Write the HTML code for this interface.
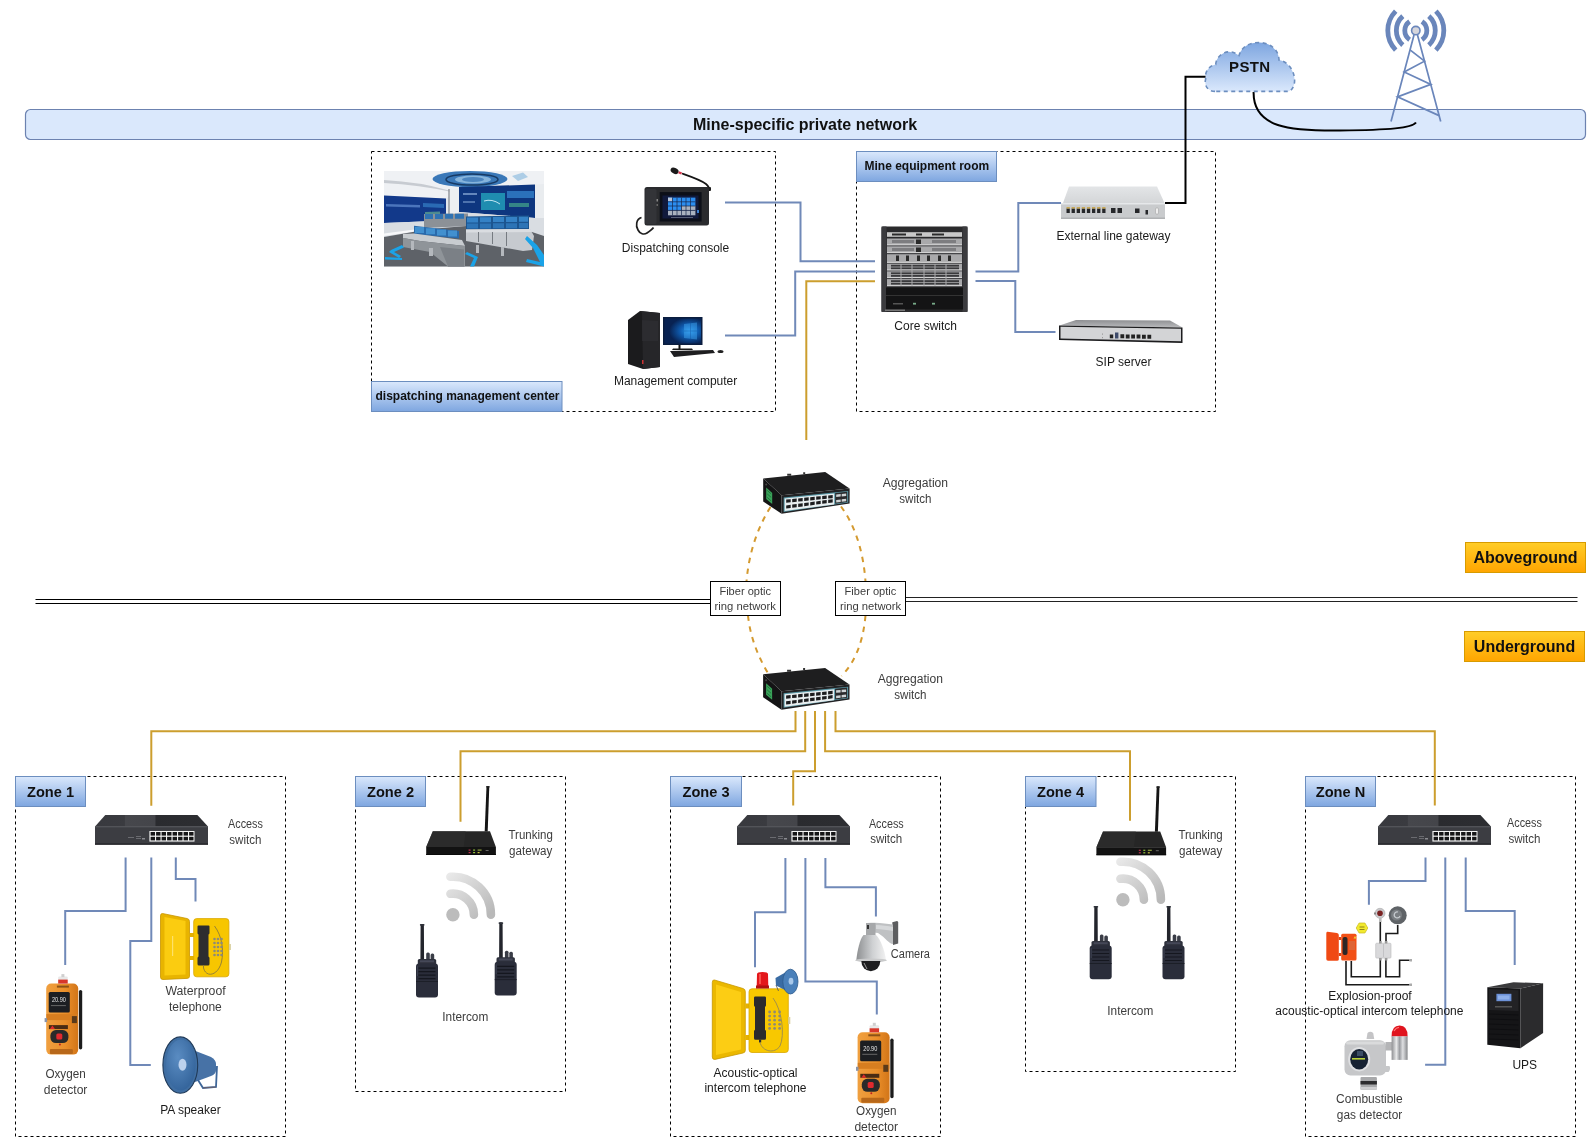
<!DOCTYPE html>
<html><head><meta charset="utf-8"><title>Mine network</title>
<style>
html,body{margin:0;padding:0;background:#fff;width:1596px;height:1147px;overflow:hidden}
svg{display:block;font-family:"Liberation Sans",sans-serif;will-change:transform}
.t{font-size:12px;fill:#1a1a1a}
.g{font-size:12px;fill:#3c3c3c}
.b{font-weight:bold;fill:#111}
.blue{stroke:#7089b8;stroke-width:2;fill:none}
.org{stroke:#cc9e2e;stroke-width:2;fill:none}
.dash{stroke:#000;stroke-width:1;fill:none;stroke-dasharray:3 3}
</style></head>
<body>
<svg width="1596" height="1147" viewBox="0 0 1596 1147">
<defs>
<linearGradient id="lbl" x1="0" y1="0" x2="0" y2="1"><stop offset="0" stop-color="#dae8fc"/><stop offset="1" stop-color="#7ea6e0"/></linearGradient>
<linearGradient id="orng" x1="0" y1="0" x2="0" y2="1"><stop offset="0" stop-color="#ffcd28"/><stop offset="1" stop-color="#ffa500"/></linearGradient>
<linearGradient id="cloud" x1="0" y1="0" x2="0" y2="1"><stop offset="0" stop-color="#7ea6e0"/><stop offset="1" stop-color="#dae8fc"/></linearGradient>
<linearGradient id="camg" x1="0" y1="0" x2="1" y2="0"><stop offset="0" stop-color="#8d8f91"/><stop offset=".55" stop-color="#cfd1d3"/><stop offset="1" stop-color="#f2f2f2"/></linearGradient>
<linearGradient id="metal" x1="0" y1="0" x2="1" y2="0"><stop offset="0" stop-color="#8e8f92"/><stop offset=".3" stop-color="#e8e9ea"/><stop offset=".5" stop-color="#9a9ca0"/><stop offset=".7" stop-color="#dfe0e2"/><stop offset="1" stop-color="#85878a"/></linearGradient>
<linearGradient id="wifig" gradientUnits="userSpaceOnUse" x1="-10" y1="-40" x2="30" y2="5"><stop offset="0" stop-color="#ececec"/><stop offset="1" stop-color="#b9b9b9"/></linearGradient>
<linearGradient id="oxyg" x1="0" y1="0" x2="1" y2="0"><stop offset="0" stop-color="#f0a040"/><stop offset=".6" stop-color="#ea8f2a"/><stop offset="1" stop-color="#d27518"/></linearGradient>
<linearGradient id="accTop" x1="0" y1="0" x2="1" y2="0"><stop offset="0" stop-color="#38393e"/><stop offset=".26" stop-color="#3a3b40"/><stop offset=".27" stop-color="#46474c"/><stop offset=".53" stop-color="#44454a"/><stop offset=".54" stop-color="#2a2b2f"/><stop offset="1" stop-color="#2d2e32"/></linearGradient>
<radialGradient id="winG" cx=".68" cy=".5" r=".55"><stop offset="0" stop-color="#2a98ec"/><stop offset=".45" stop-color="#0f5cb0"/><stop offset="1" stop-color="#082252"/></radialGradient>
<linearGradient id="gwTop" x1="0" y1="0" x2="0" y2="1"><stop offset="0" stop-color="#e3e5e7"/><stop offset="1" stop-color="#d4d6d8"/></linearGradient>
<linearGradient id="sipTop" x1="0" y1="0" x2="0" y2="1"><stop offset="0" stop-color="#8e8f92"/><stop offset="1" stop-color="#b9babc"/></linearGradient>
<radialGradient id="paG" cx=".4" cy=".35" r=".7"><stop offset="0" stop-color="#5a8cc2"/><stop offset="1" stop-color="#33639a"/></radialGradient>

<!-- aggregation switch, origin = top-left corner of top face -->
<g id="aggsw">
<path d="M0,0 L62,-6.4 L86.4,10.2 L18.4,16.9 Z" fill="#1e1e1f"/>
<path d="M24,-2.6 h4 v-2 h-4z M40,-4.2 h2 v-2 h-2z" fill="#333"/>
<path d="M0,0 L18.4,16.9 L18.4,35.4 L0,23 Z" fill="#141415"/>
<path d="M3,9 L9,14.5 L9,25.5 L3,20.5 Z" fill="#3aa35a"/>
<path d="M4,12 L8,15.5 M4,15.5 L8,19 M4,19 L8,22.5" stroke="#1d6b35" stroke-width=".8"/>
<circle cx="3" cy="6" r="1" fill="#444"/>
<path d="M18.4,16.9 L86.4,10.2 L86.4,25.2 L18.4,35.4 Z" fill="#222224"/>
<path d="M20.5,19 L85,12.5 L85,24 L20.5,33.5 Z" fill="#5b9aa8"/>
<path d="M21.5,20 L71,15 L71,26 L21.5,32.5 Z" fill="#e8eef0"/>
<g fill="#1c1c1e">
<path d="M23,21.2 l4.5,-.45 v3.2 l-4.5,.45z M29,20.6 l4.5,-.45 v3.2 l-4.5,.45z M35,20 l4.5,-.45 v3.2 l-4.5,.45z M41,19.4 l4.5,-.45 v3.2 l-4.5,.45z M47,18.8 l4.5,-.45 v3.2 l-4.5,.45z M53,18.2 l4.5,-.45 v3.2 l-4.5,.45z M59,17.6 l4.5,-.45 v3.2 l-4.5,.45z M65,17 l4.5,-.45 v3.2 l-4.5,.45z"/>
<path d="M23,27 l4.5,-.6 v3.2 l-4.5,.6z M29,26.2 l4.5,-.6 v3.2 l-4.5,.6z M35,25.4 l4.5,-.6 v3.2 l-4.5,.6z M41,24.6 l4.5,-.6 v3.2 l-4.5,.6z M47,23.8 l4.5,-.6 v3.2 l-4.5,.6z M53,23 l4.5,-.6 v3.2 l-4.5,.6z M59,22.2 l4.5,-.6 v3.2 l-4.5,.6z M65,21.4 l4.5,-.6 v3.2 l-4.5,.6z"/>
</g>
<path d="M72,14.5 L84,13.3 L84,23.5 L72,25.3 Z" fill="#2a2a2c"/>
<path d="M73,16 l4.5,-.4 v2.5 l-4.5,.4z M78.5,15.5 l4.5,-.4 v2.5 l-4.5,.4z M73,21.5 l4.5,-.5 v2.5 l-4.5,.5z M78.5,20.8 l4.5,-.5 v2.5 l-4.5,.5z" fill="#cfd4d6"/>
</g>

<!-- access switch, origin = left x, top y -->
<g id="accsw">
<path d="M10.3,0 L102.4,0 L113,11.4 L0,11.4 Z" fill="url(#accTop)"/>
<rect x="0" y="11.4" width="113" height="18.2" fill="#3c3d42"/>
<rect x="0" y="11.4" width="113" height="1.2" fill="#4a4b50"/>
<rect x="0" y="28.2" width="113" height="1.6" fill="#2a2a2e"/>
<rect x="54.4" y="16" width="45.1" height="10.6" fill="#f2f2f2"/>
<g fill="#151517">
<rect x="55.6" y="17" width="4.4" height="3.6"/><rect x="61.1" y="17" width="4.4" height="3.6"/><rect x="66.6" y="17" width="4.4" height="3.6"/><rect x="72.1" y="17" width="4.4" height="3.6"/><rect x="77.6" y="17" width="4.4" height="3.6"/><rect x="83.1" y="17" width="4.4" height="3.6"/><rect x="88.6" y="17" width="4.4" height="3.6"/><rect x="94.1" y="17" width="4.4" height="3.6"/>
<rect x="55.6" y="21.8" width="4.4" height="3.6"/><rect x="61.1" y="21.8" width="4.4" height="3.6"/><rect x="66.6" y="21.8" width="4.4" height="3.6"/><rect x="72.1" y="21.8" width="4.4" height="3.6"/><rect x="77.6" y="21.8" width="4.4" height="3.6"/><rect x="83.1" y="21.8" width="4.4" height="3.6"/><rect x="88.6" y="21.8" width="4.4" height="3.6"/><rect x="94.1" y="21.8" width="4.4" height="3.6"/>
</g>
<g fill="#6a6b70"><rect x="33" y="22" width="6" height="1"/><rect x="41" y="21" width="5" height="1"/><rect x="41" y="23" width="5" height="1"/><rect x="47" y="23" width="3" height="1.5" fill="#8a8b90"/></g>
</g>

<!-- router, origin offset so body-left ~0.6 -->
<g id="router">
<path d="M60.9,0.3 L63.7,0.3 L62.1,45.5 L59.1,45.5 Z" fill="#151515"/>
<rect x="60.6" y="0" width="3.4" height="1.6" rx=".6" fill="#222"/>
<path d="M7.2,45.3 L64.4,45.3 L70.3,61 L0.6,61 Z" fill="#262626"/>
<path d="M7.2,45.3 L40,45.3 L38,61 L0.6,61 Z" fill="#2e2e2e" opacity=".7"/>
<rect x="0.6" y="61" width="69.7" height="8" fill="#121212"/>
<rect x="0.6" y="68" width="69.7" height="1" fill="#0a0a0a"/>
<rect x="43" y="63.5" width="2" height="1.2" fill="#c0304a"/>
<rect x="43" y="66" width="2" height="1.2" fill="#c0304a"/>
<rect x="47.5" y="63.5" width="2" height="1.2" fill="#8fc03a"/><rect x="47.5" y="66" width="2" height="1.2" fill="#8fc03a"/>
<rect x="52" y="63.5" width="4" height="1.2" fill="#8fa040"/><rect x="52" y="66" width="2" height="1.2" fill="#c8c040"/>
<rect x="60" y="64" width="3" height="1" fill="#666"/>
</g>

<!-- wifi, origin = dot center -->
<g id="wifi">
<circle cx="0" cy="0" r="6.7" fill="#bcbcbc"/>
<path d="M-2.5,-20.9 A21,21 0 0 1 21,0" stroke="url(#wifig)" stroke-width="8.6" stroke-linecap="round" fill="none"/>
<path d="M-2.5,-37.9 A38,38 0 0 1 38,0" stroke="url(#wifig)" stroke-width="8.6" stroke-linecap="round" fill="none"/>
</g>

<!-- walkie-talkie, origin = body-left, antenna-top -->
<g id="walkie">
<path d="M4.6,1.5 Q4.6,0 6.2,0 Q7.9,0 7.9,1.5 L8.1,37 L4.4,37 Z" fill="#23252c"/>
<rect x="3.9" y="0" width="4.6" height="1.6" rx=".7" fill="#2f323a"/>
<rect x="10.2" y="28.5" width="3.6" height="8.5" rx="1.5" fill="#3a3d47"/>
<rect x="14.6" y="29.5" width="3.6" height="7.5" rx="1.5" fill="#3a3d47"/>
<rect x="1.8" y="35" width="18.4" height="7" rx="1.5" fill="#2e313c"/>
<rect x="0" y="39.5" width="22" height="33.8" rx="3" fill="#2a2d3a"/>
<rect x="4" y="36.2" width="14" height="2" fill="#454858"/>
<g stroke="#15171f" stroke-width="1.2"><path d="M2.5,44 H19.5 M2.5,47.5 H19.5 M2.5,51 H19.5 M2.5,54.5 H19.5"/></g>
<rect x="0" y="57" width="22" height="0.8" fill="#1a1c24"/>
<rect x="1" y="42" width="1" height="10" fill="#3c4050"/>
</g>

<!-- oxygen detector, origin = top-left of bbox -->
<g id="oxy">
<path d="M34,17.5 Q34,15.8 35.6,15.8 Q37.3,15.8 37.3,17.5 L37.3,74 Q37.3,75.4 35.6,75.4 Q34,75.4 34,74 Z" fill="#1c1c1c"/>
<rect x="1.3" y="9.5" width="32" height="71" rx="5" fill="url(#oxyg)"/>
<rect x="13.3" y="2.5" width="9.5" height="7" rx="1" fill="#e8e8e8"/>
<rect x="13.3" y="5.5" width="9.5" height="4" fill="#d8372c"/>
<rect x="16.5" y="0" width="3" height="3" fill="#cfcfcf"/>
<rect x="12" y="11.5" width="12" height="2" fill="#8a5218"/>
<rect x="3.8" y="17.8" width="21.1" height="20.7" rx="1.5" fill="#1c1e22"/>
<text x="7" y="28.3" font-size="6.4" fill="#e8e8e8" font-family="Liberation Sans, sans-serif" textLength="14" lengthAdjust="spacingAndGlyphs">20.90</text>
<rect x="6" y="31" width="15" height="1" fill="#666"/>
<rect x="1.5" y="40" width="31.5" height="6" fill="#d77e20"/>
<rect x="-0.3" y="44" width="2.5" height="4" fill="#8a93a8"/>
<rect x="27" y="42" width="5" height="7" fill="#5a3a1a"/>
<path d="M4,51 L23,51 L23,55 L4,55 Z" fill="#4a2c14"/>
<path d="M5,55 L7.5,51.5 L10,55 Z" fill="#e02a2a"/>
<rect x="5.5" y="56" width="18" height="13" rx="5.5" fill="#2a2a2a"/>
<rect x="11.4" y="59.3" width="6" height="6" rx="1.5" fill="#e12a2e"/>
<circle cx="15" cy="70.5" r="1" fill="#c02020"/>
<rect x="5" y="75" width="23" height="5" rx="1" fill="#b8681a"/>
</g>

</defs>

<!-- top banner -->
<rect x="25.5" y="109.5" width="1560" height="30" rx="5" fill="#dae8fc" stroke="#6c82b0" stroke-width="1.2"/>
<text x="805" y="129.7" text-anchor="middle" class="b" style="font-size:16px">Mine-specific private network</text>

<!-- dispatching management center box -->
<rect x="371.5" y="151.5" width="404" height="260" class="dash"/>
<rect x="371.5" y="381.5" width="190.5" height="30" fill="url(#lbl)" stroke="#6c8ebf" stroke-width="1"/>
<text x="375.5" y="399.6" class="b" style="font-size:12px">dispatching management center</text>

<!-- mine equipment room box -->
<rect x="856.5" y="151.5" width="359" height="260" class="dash"/>
<rect x="856.5" y="151.5" width="140" height="30" fill="url(#lbl)" stroke="#6c8ebf" stroke-width="1"/>
<text x="864.5" y="170.2" class="b" style="font-size:12px">Mine equipment room</text>

<!-- zone boxes -->
<rect x="15.5" y="776.5" width="270" height="360" class="dash"/>
<rect x="355.5" y="776.5" width="210" height="315" class="dash"/>
<rect x="670.5" y="776.5" width="270" height="360" class="dash"/>
<rect x="1025.5" y="776.5" width="210" height="295" class="dash"/>
<rect x="1305.5" y="776.5" width="270" height="360" class="dash"/>

<g id="zonelabels">
<rect x="15.5" y="776.5" width="70" height="30" fill="url(#lbl)" stroke="#6c8ebf" stroke-width="1"/>
<text x="50.5" y="796.9" text-anchor="middle" class="b" style="font-size:14.6px">Zone 1</text>
<rect x="355.5" y="776.5" width="70" height="30" fill="url(#lbl)" stroke="#6c8ebf" stroke-width="1"/>
<text x="390.5" y="796.9" text-anchor="middle" class="b" style="font-size:14.6px">Zone 2</text>
<rect x="670.5" y="776.5" width="71" height="30" fill="url(#lbl)" stroke="#6c8ebf" stroke-width="1"/>
<text x="706" y="796.9" text-anchor="middle" class="b" style="font-size:14.6px">Zone 3</text>
<rect x="1025.5" y="776.5" width="70.5" height="30" fill="url(#lbl)" stroke="#6c8ebf" stroke-width="1"/>
<text x="1060.5" y="796.9" text-anchor="middle" class="b" style="font-size:14.6px">Zone 4</text>
<rect x="1305.5" y="776.5" width="70" height="30" fill="url(#lbl)" stroke="#6c8ebf" stroke-width="1"/>
<text x="1340.5" y="796.9" text-anchor="middle" class="b" style="font-size:14.6px">Zone N</text>
</g>

<!-- ground divider -->
<line x1="35.5" y1="599.5" x2="710" y2="599.5" stroke="#000" stroke-width="1.1"/>
<line x1="35.5" y1="603.5" x2="710" y2="603.5" stroke="#000" stroke-width="1.1"/>
<line x1="906" y1="597.5" x2="1577.5" y2="597.5" stroke="#222" stroke-width="1.1"/>
<line x1="906" y1="601.5" x2="1577.5" y2="601.5" stroke="#222" stroke-width="1.1"/>

<!-- above / under ground labels -->
<rect x="1465.5" y="542.5" width="120" height="30" fill="url(#orng)" stroke="#d79b00" stroke-width="1"/>
<text x="1525.5" y="562.7" text-anchor="middle" class="b" style="font-size:16px">Aboveground</text>
<rect x="1464.5" y="631.5" width="120" height="30" fill="url(#orng)" stroke="#d79b00" stroke-width="1"/>
<text x="1524.5" y="651.5" text-anchor="middle" class="b" style="font-size:16px">Underground</text>

<!-- fiber ring (dashed ellipse arcs) -->
<g fill="none" stroke="#d49a30" stroke-width="2" stroke-dasharray="5.5 5.5">
<path d="M770.5,507 Q750,540 746.5,581.5"/>
<path d="M748,615.5 Q751,645 768.5,674"/>
<path d="M841,506.5 Q862,535 865.5,581.5"/>
<path d="M865.5,615.5 Q862,655 841.5,676"/>
</g>

<!-- fiber labels -->
<rect x="710.5" y="581.5" width="70" height="34" fill="#fff" stroke="#000" stroke-width="1"/>
<rect x="835.5" y="581.5" width="70" height="34" fill="#fff" stroke="#000" stroke-width="1"/>

<!-- LINES -->
<g class="blue">
<polyline points="725,202.4 800.5,202.4 800.5,261.3 875,261.3"/>
<polyline points="725,335.5 795.2,335.5 795.2,271.4 875,271.4"/>
<polyline points="975.5,271.4 1018.3,271.4 1018.3,203 1061,203"/>
<polyline points="975.5,281 1015.3,281 1015.3,332 1055.5,332"/>
</g>
<polyline points="806.3,440 806.3,281.3 875,281.3" class="org"/>

<!-- PSTN black links -->
<polyline points="1165,203 1185.5,203 1185.5,76.7 1206,76.7" fill="none" stroke="#000" stroke-width="2"/>
<path d="M1253.6,92 C1253,128 1290,131 1340,130.5 C1390,130 1412,128 1416,122.5" fill="none" stroke="#000" stroke-width="2"/>

<!-- underground orange trunk lines -->
<g class="org">
<polyline points="795.5,711 795.5,731.3 151.3,731.3 151.3,805.7"/>
<polyline points="805.2,711 805.2,751.3 460.5,751.3 460.5,821.8"/>
<polyline points="815,711 815,771.3 793.2,771.3 793.2,805.4"/>
<polyline points="825.1,711 825.1,751.3 1130,751.3 1130,820.8"/>
<polyline points="835.5,711 835.5,731.3 1434.8,731.3 1434.8,805.6"/>
</g>

<!-- zone blue lines -->
<g class="blue">
<!-- zone 1 -->
<polyline points="125.6,857.4 125.6,911 65.2,911 65.2,965"/>
<polyline points="151.3,857.4 151.3,941 130.3,941 130.3,1065 150.8,1065"/>
<polyline points="175.8,857.4 175.8,879 195.5,879 195.5,901.4"/>
<!-- zone 3 -->
<polyline points="785.4,858.1 785.4,912.3 755,912.3 755,967.2"/>
<polyline points="805.4,858.1 805.4,981.4 876.8,981.4 876.8,1014.6"/>
<polyline points="825.4,858.1 825.4,887.2 875.9,887.2 875.9,916.4"/>
<!-- zone N -->
<polyline points="1425.5,857.5 1425.5,881.1 1368.9,881.1 1368.9,904.7"/>
<polyline points="1445.3,857.5 1445.3,1064.8 1425.1,1064.8"/>
<polyline points="1465.7,857.5 1465.7,910.9 1514.7,910.9 1514.7,965.1"/>
</g>

<!-- TEXT LABELS -->
<g class="t">
<text x="675.5" y="251.5" text-anchor="middle">Dispatching console</text>
<text x="675.6" y="384.5" text-anchor="middle">Management computer</text>
<text x="925.7" y="329.5" text-anchor="middle">Core switch</text>
<text x="1113.5" y="239.5" text-anchor="middle">External line gateway</text>
<text x="1123.5" y="366.2" text-anchor="middle">SIP server</text>
<text x="190.4" y="1113.5" text-anchor="middle">PA speaker</text>
<text x="755.5" y="1077" text-anchor="middle">Acoustic-optical</text>
<text x="755.5" y="1091.5" text-anchor="middle">intercom telephone</text>
<text x="1370" y="999.8" text-anchor="middle">Explosion-proof</text>
<text x="1369.4" y="1015" text-anchor="middle">acoustic-optical intercom telephone</text>
<text x="1524.8" y="1068.8" text-anchor="middle">UPS</text>
</g>
<g class="g">
<text x="882.7" y="486.8" textLength="65.4" lengthAdjust="spacingAndGlyphs">Aggregation</text>
<text x="899.3" y="502.7" textLength="32.2" lengthAdjust="spacingAndGlyphs">switch</text>
<text x="877.8" y="683.4" textLength="65.2" lengthAdjust="spacingAndGlyphs">Aggregation</text>
<text x="894.3" y="699.2" textLength="32.2" lengthAdjust="spacingAndGlyphs">switch</text>
<text x="228.1" y="827.9" textLength="34.8" lengthAdjust="spacingAndGlyphs">Access</text>
<text x="229.3" y="843.9" textLength="32.1" lengthAdjust="spacingAndGlyphs">switch</text>
<text x="868.9" y="827.7" textLength="34.8" lengthAdjust="spacingAndGlyphs">Access</text>
<text x="870.2" y="843.4" textLength="32.1" lengthAdjust="spacingAndGlyphs">switch</text>
<text x="1507.1" y="827.4" textLength="34.8" lengthAdjust="spacingAndGlyphs">Access</text>
<text x="1508.4" y="843.0" textLength="32.1" lengthAdjust="spacingAndGlyphs">switch</text>
<text x="508.5" y="839.0" textLength="44.3" lengthAdjust="spacingAndGlyphs">Trunking</text>
<text x="509.1" y="855.0" textLength="43.2" lengthAdjust="spacingAndGlyphs">gateway</text>
<text x="1178.4" y="838.8" textLength="44.3" lengthAdjust="spacingAndGlyphs">Trunking</text>
<text x="1179.1" y="854.8" textLength="43.2" lengthAdjust="spacingAndGlyphs">gateway</text>
<text x="442.3" y="1021.0" textLength="46.0" lengthAdjust="spacingAndGlyphs">Intercom</text>
<text x="1107.3" y="1014.8" textLength="46.0" lengthAdjust="spacingAndGlyphs">Intercom</text>
<text x="890.8" y="958.2" textLength="39.2" lengthAdjust="spacingAndGlyphs">Camera</text>
<text x="45.4" y="1078.3" textLength="40.3" lengthAdjust="spacingAndGlyphs">Oxygen</text>
<text x="43.7" y="1093.9" textLength="43.7" lengthAdjust="spacingAndGlyphs">detector</text>
<text x="165.4" y="995.2" textLength="60.3" lengthAdjust="spacingAndGlyphs">Waterproof</text>
<text x="169.0" y="1010.9" textLength="52.8" lengthAdjust="spacingAndGlyphs">telephone</text>
<text x="856.1" y="1115.4" textLength="40.3" lengthAdjust="spacingAndGlyphs">Oxygen</text>
<text x="854.4" y="1130.8" textLength="43.7" lengthAdjust="spacingAndGlyphs">detector</text>
<text x="1336.1" y="1102.9" textLength="66.6" lengthAdjust="spacingAndGlyphs">Combustible</text>
<text x="1336.8" y="1118.6" textLength="65.4" lengthAdjust="spacingAndGlyphs">gas detector</text>
<text x="719.4" y="595.0" textLength="51.7" lengthAdjust="spacingAndGlyphs" style="font-size:11px">Fiber optic</text>
<text x="714.6" y="609.6" textLength="61.3" lengthAdjust="spacingAndGlyphs" style="font-size:11px">ring network</text>
<text x="844.6" y="595.0" textLength="51.7" lengthAdjust="spacingAndGlyphs" style="font-size:11px">Fiber optic</text>
<text x="839.9" y="609.6" textLength="61.3" lengthAdjust="spacingAndGlyphs" style="font-size:11px">ring network</text>
</g>

<!-- DEVICES -->
<g id="devices">
<!-- ===== control room image ===== -->
<g id="ctrlroom">
<rect x="384" y="171" width="160" height="95.5" fill="#e4e8ed"/>
<path d="M384,171 H544 V186 L459,188 L446,199 L384,195.6 Z" fill="#eff1f4"/>
<path d="M384,180 Q420,182 447,190 L452,191 L452,192 Q420,185 384,183 Z" fill="#a0a6ae" opacity=".5"/>
<ellipse cx="470" cy="179" rx="37.5" ry="8" fill="#3a78b8"/>
<ellipse cx="472" cy="179.5" rx="26" ry="5.6" fill="none" stroke="#173a64" stroke-width="1.5"/>
<ellipse cx="473" cy="179.5" rx="18" ry="4" fill="#86b4dc"/>
<ellipse cx="473" cy="179.5" rx="11" ry="2.4" fill="#4d86c0"/>
<path d="M512,176 L523,172.5 L528,177 L518,181 Z" fill="#9cc4e2" opacity=".8"/>
<!-- left screen -->
<path d="M384,195.4 L446,198.5 L446,220.4 L384,223 Z" fill="#12398a"/>
<path d="M386,204 L420,205 L420,207.5 L386,206.5 Z" fill="#5a85c8" opacity=".8"/>
<path d="M423,203 L444,204 L444,208 L423,207 Z" fill="#2e70b8" opacity=".9"/>
<path d="M425,212 L440,211.5 L440,214.5 L425,215 Z" fill="#5aa090" opacity=".8"/>
<!-- column -->
<rect x="448.5" y="189" width="1.2" height="28" fill="#6a6e74"/>
<rect x="449.7" y="189" width="9.3" height="28" fill="#eceff2"/>
<!-- right screen -->
<path d="M459,187 L535,184.5 L535,218 L459,212 Z" fill="#0e367f"/>
<rect x="481" y="193" width="24" height="17" fill="#1f8db0"/>
<path d="M484,201 Q492,198.5 500,204" stroke="#bfe6f2" stroke-width="1" fill="none"/>
<rect x="507" y="191" width="27" height="7" fill="#2f78c2" opacity=".9"/>
<rect x="509" y="203" width="20" height="4" fill="#3f9a8a" opacity=".8"/>
<rect x="463" y="193" width="14" height="2" fill="#7a9ccc" opacity=".8"/>
<rect x="463" y="201" width="12" height="2" fill="#7a9ccc" opacity=".6"/>
<!-- right wall -->
<path d="M535,184.5 L544,184 L544,236 L535,232 Z" fill="#e9ecef"/>
<!-- wall base -->
<path d="M384,223 L446,220.4 L459,212 L535,218 L544,218 L544,236 L532,232 L466,226 L430,229 L384,237 Z" fill="#d9dde2"/>
<path d="M384,233.5 L426,228 L426,230 L384,236 Z" fill="#f7f8fa"/>
<!-- floor -->
<path d="M384,237 L430,229 L466,226 L532,232 L544,236 L544,266.5 L384,266.5 Z" fill="#5e6268"/>
<!-- back row consoles -->
<path d="M424,214 L468,213.5 L468,226 L424,228 Z" fill="#8c9197"/>
<path d="M425,214 h8 v5 h-8z M435,214 h8 v5 h-8z M445,213.8 h8 v5 h-8z M455,213.7 h9 v5 h-9z" fill="#2f72b2"/>
<!-- right group -->
<path d="M466,216.5 L529,215.5 L529,229 L466,229.5 Z" fill="#1c5590"/>
<path d="M467,217.5 h11 v5 h-11z M480,217.3 h11 v5 h-11z M493,217.1 h11 v5 h-11z M506,216.9 h11 v5 h-11z M519,216.7 h9 v5 h-9z" fill="#3582c6"/>
<path d="M467,223.5 h11 v5 h-11z M480,223.4 h11 v5 h-11z M493,223.3 h11 v5 h-11z M506,223.2 h11 v5 h-11z M519,223.1 h9 v5 h-9z" fill="#2d74b6"/>
<path d="M466,229.5 L530,229 L534,236 L532,250 L523,251 L466,241 Z" fill="#c6cacf"/>
<path d="M466,229.5 L530,229 L532,232 L466,232.5 Z" fill="#dadde1"/>
<g fill="#767b81"><rect x="478" y="232" width="1" height="10"/><rect x="492" y="232" width="1" height="12"/><rect x="506" y="232" width="1" height="14"/></g>
<!-- left console -->
<path d="M414,225.7 L459,231 L459,238.5 L414,234 Z" fill="#2a6aab"/>
<path d="M415,227 h9 v6 h-9z M426,228.2 h9 v6 h-9z M437,229.4 h9 v6 h-9z M448,230.6 h9 v6 h-9z" fill="#4290cf"/>
<path d="M403,234 L414,233.5 L462,240 L465,246 L420,241 L403,238 Z" fill="#c8ccd0"/>
<path d="M403,238 L420,241 L465,246 L465,266.5 L448,266.5 L430,252 L403,247 Z" fill="#8f9499"/>
<path d="M440,247 L464,249.5 L464,266.5 L448,266.5 Z" fill="#7b8086"/>
<!-- chairs -->
<g fill="#b4b8bd"><rect x="411" y="241" width="3" height="9"/><rect x="429" y="248" width="4" height="8"/><rect x="476" y="245" width="3" height="8"/><rect x="501" y="247" width="3" height="9"/></g>
<!-- blue floor accents -->
<path d="M391,250 L402,245 L404,247.5 L394,252 L401,256 L399,258 L389,252 Z" fill="#1aa3e8"/>
<path d="M385,257 L402,258 L402,260 L385,259.5 Z" fill="#1aa3e8"/>
<path d="M467,252 L478,257 L474,266.5 L470,266.5 L474,258 L465,254 Z" fill="#1aa3e8"/>
<path d="M527,236 L537,245 L544,255 L544,266.5 L526,262 L527,259 L540,262 L533,248 L525,239 Z" fill="#1aa3e8"/>
</g>


<!-- ===== dispatching console ===== -->
<g id="console">
<path d="M682,173.5 C692,177 701,180 706,184 C709,186.5 709.5,188 709,190.5" stroke="#151515" stroke-width="1.7" fill="none"/>
<ellipse cx="674.6" cy="170.8" rx="4.2" ry="2.9" fill="#1a1a1a" transform="rotate(28 674.6 170.8)"/>
<path d="M678.6,172.2 L681.6,173.6" stroke="#d8324a" stroke-width="2.2"/>
<rect x="707" y="187" width="4" height="4" rx="1" fill="#1e1e1e"/>
<rect x="644.5" y="187" width="64.5" height="38.5" rx="2.5" fill="#2a2b2e"/>
<rect x="645.5" y="189" width="11" height="35" rx="1.5" fill="#333438"/>
<rect x="656.5" y="199" width="1.5" height="2.5" fill="#888"/>
<rect x="656.5" y="204" width="1.5" height="2" fill="#666"/>
<rect x="659.7" y="192.1" width="41.9" height="29.4" fill="#0c0f18"/>
<rect x="662.5" y="195.5" width="36" height="23" fill="#111a3c"/>
<g fill="#2b8ef0">
<rect x="668" y="197.6" width="27.4" height="8.4"/>
<rect x="668" y="206" width="13.5" height="4.5"/>
</g>
<g fill="#a9b2bf">
<rect x="681.5" y="206" width="13.9" height="4.5"/>
<rect x="668" y="210.5" width="27.4" height="4.8"/>
<rect x="668" y="197.6" width="4.2" height="3.6" fill="#b8c4d8"/>
</g>
<g stroke="#16254a" stroke-width=".7"><path d="M672.5,197.6v17.7M677,197.6v17.7M681.5,197.6v17.7M686,197.6v17.7M690.5,197.6v17.7M668,201.8h27.4M668,206h27.4M668,210.4h27.4"/></g>
<rect x="697" y="210" width="2" height="3" fill="#3a7fd0"/>
<rect x="671" y="217" width="22" height="0.8" fill="#6a7288"/>
<path d="M641.5,217.5 C636,219 635.5,226 638,230 C640,234 644,235 647,233 C650,231 652.5,229 653.5,227.5" stroke="#1e1e1e" stroke-width="1.7" fill="none"/>
</g>


<!-- ===== management computer ===== -->
<g id="computer">
<path d="M628,320 L640,311 L660,313 L660,367 L643,369 L628,364 Z" fill="#1b1b1d"/>
<path d="M640,311 L660,313 L660,367 L643,369 L642,313 Z" fill="#262629"/>
<path d="M642,320 L658,321 L658,341 L642,341Z" fill="#2f2f33" opacity=".7"/>
<rect x="642" y="360" width="1.5" height="4" fill="#c33"/>
<rect x="663" y="317" width="39.5" height="28" fill="#0a1d3f"/>
<rect x="664.5" y="318.5" width="36.5" height="25" fill="url(#winG)"/>
<path d="M684,324 L697,322.5 L697,339.5 L684,338 Z" fill="#43a8f2" opacity=".45"/>
<path d="M684,331 h13 M690.5,323 v16" stroke="#0e4a95" stroke-width=".6" opacity=".6"/>
<rect x="678.5" y="345" width="2" height="4" fill="#111"/>
<path d="M673,348.5 L692,348.5 L693,350 L672,350 Z" fill="#1a1a1a"/>
<path d="M670,351 L713,350 L715,353 L674,357 Z" fill="#1e1e20"/>
<ellipse cx="720.5" cy="351.5" rx="3" ry="1.6" fill="#222"/>
</g>

<!-- ===== core switch ===== -->
<g id="coreswitch">
<rect x="881.5" y="226.5" width="86" height="85.5" rx="1.5" fill="#2a2a2c"/>
<rect x="881.5" y="226.5" width="5" height="85.5" fill="#3b3b3e"/>
<rect x="962.5" y="226.5" width="5" height="85.5" fill="#3b3b3e"/>
<rect x="887" y="232.2" width="75" height="4.6" fill="#c9c9c9"/>
<g fill="#a9a9ab">
<rect x="887" y="238.5" width="75" height="6.8"/>
<rect x="887" y="246.3" width="75" height="6.8"/>
<rect x="887" y="254.2" width="75" height="8.6"/>
<rect x="887" y="263.6" width="75" height="6.8"/>
<rect x="887" y="271.3" width="75" height="6.8"/>
<rect x="887" y="279.1" width="75" height="7"/>
</g>
<g fill="#d8d8d8"><rect x="887" y="244.3" width="75" height="1"/><rect x="887" y="252.1" width="75" height="1"/><rect x="887" y="261.8" width="75" height="1"/><rect x="887" y="269.4" width="75" height="1"/><rect x="887" y="277.1" width="75" height="1"/><rect x="887" y="285.2" width="75" height="1"/></g>
<g fill="#2a2a2a">
<rect x="892" y="233.5" width="14" height="2"/><rect x="916" y="233.5" width="6" height="2"/><rect x="932" y="233.5" width="12" height="2"/>
<rect x="892" y="240" width="22" height="3" fill="#7d7d80"/><rect x="916" y="239.5" width="5" height="4.5"/><rect x="932" y="240" width="24" height="3" fill="#7d7d80"/>
<rect x="892" y="248" width="22" height="3" fill="#7d7d80"/><rect x="916" y="247.5" width="5" height="4.5"/><rect x="932" y="248" width="24" height="3" fill="#7d7d80"/>
<rect x="896" y="255.5" width="3" height="5.5"/><rect x="906" y="255.5" width="3" height="5.5"/><rect x="917" y="255.5" width="3" height="5.5"/><rect x="927" y="255.5" width="3" height="5.5"/><rect x="938" y="255.5" width="3" height="5.5"/><rect x="948" y="255.5" width="3" height="5.5"/>
</g>
<g fill="#3a3a3c">
<rect x="891" y="264.8" width="68" height="1.8"/><rect x="891" y="267.4" width="68" height="1.8"/>
<rect x="891" y="272.4" width="68" height="1.8"/><rect x="891" y="275" width="68" height="1.8"/>
<rect x="891" y="280.2" width="68" height="1.8"/><rect x="891" y="282.8" width="68" height="1.8"/>
</g>
<g stroke="#a9a9ab" stroke-width="1"><path d="M901,264v22M912,264v22M924,264v22M935,264v22M946,264v22"/></g>
<rect x="886" y="287.5" width="77" height="22" fill="#141415"/>
<rect x="886" y="295" width="77" height="1" fill="#333"/>
<rect x="893" y="303" width="10" height="1.5" fill="#555"/><rect x="913" y="302.8" width="3" height="1.8" fill="#7a8"/><rect x="932" y="302.8" width="3" height="1.8" fill="#7a8"/>
<rect x="885" y="309.5" width="20" height="1.5" fill="#777"/>
</g>

<!-- ===== external line gateway ===== -->
<g id="extgw">
<path d="M1063,203 L1069,186.5 L1157,186.5 L1164.5,203 Z" fill="url(#gwTop)"/>
<rect x="1061" y="203" width="104" height="16" fill="#c9cbcd"/>
<rect x="1061" y="203" width="104" height="1.5" fill="#e6e8ea"/>
<rect x="1061" y="217.5" width="104" height="1.5" fill="#b0b2b4"/>
<g fill="#26272a">
<path d="M1066.5,208.5 h3.3 v4.5 h-3.3z M1071.6,208.5 h3.3 v4.5 h-3.3z M1076.7,208.5 h3.3 v4.5 h-3.3z M1081.8,208.5 h3.3 v4.5 h-3.3z M1086.9,208.5 h3.3 v4.5 h-3.3z M1092,208.5 h3.3 v4.5 h-3.3z M1097.1,208.5 h3.3 v4.5 h-3.3z M1102.2,208.5 h3.3 v4.5 h-3.3z"/>
<path d="M1111,208 h4.5 v5 h-4.5z M1117.5,208 h4.5 v5 h-4.5z M1135,208.5 h4.5 v4.5 h-4.5z M1145.5,210 h2.5 v4.5 h-2.5z"/>
</g>
<g fill="#c8a03a"><rect x="1066.5" y="207.2" width="3.3" height="1.3"/><rect x="1071.6" y="207.2" width="3.3" height="1.3"/><rect x="1076.7" y="207.2" width="3.3" height="1.3"/><rect x="1081.8" y="207.2" width="3.3" height="1.3"/><rect x="1086.9" y="207.2" width="3.3" height="1.3"/><rect x="1092" y="207.2" width="3.3" height="1.3"/><rect x="1097.1" y="207.2" width="3.3" height="1.3"/><rect x="1102.2" y="207.2" width="3.3" height="1.3"/></g>
<rect x="1155.5" y="208" width="3" height="6" rx="1" fill="#eee" stroke="#999" stroke-width=".5"/>
</g>

<!-- ===== SIP server ===== -->
<g id="sip">
<path d="M1059.5,325.5 L1076,320 L1170,320.5 L1182.5,327.5 Z" fill="url(#sipTop)"/>
<path d="M1059,325.5 L1182.5,327.5 L1182.5,343 L1059,340 Z" fill="#1c1c1e"/>
<path d="M1060.5,326.8 L1181,328.8 L1181,341.3 L1060.5,338.6 Z" fill="#d3d4d6"/>
<g fill="#222">
<path d="M1109.8,334.5 h3.4 v3.8 h-3.4z"/>
<path d="M1120.4,334.3 h3.8 v4 h-3.8z M1125.8,334.4 h3.8 v4 h-3.8z M1131.2,334.5 h3.8 v4 h-3.8z M1136.6,334.6 h3.8 v4 h-3.8z M1142,334.7 h3.8 v4 h-3.8z M1147.4,334.8 h3.8 v4 h-3.8z"/>
</g>
<rect x="1115" y="332.5" width="3.4" height="6" fill="#3d4a6a"/>
<rect x="1102" y="333.5" width="1" height="1.2" fill="#999"/><rect x="1102" y="337" width="1" height="1.2" fill="#999"/>
</g>

<!-- ===== PSTN cloud ===== -->
<path d="M1215,91.4 C1207,91.4 1204,84 1205.7,79 C1204.5,73 1208,66 1215.7,64.5 C1216,57 1224,51 1230,51.9 C1234,52 1237,54 1239,55.5 C1242,46 1250,42.6 1259,42.6 C1270,42.6 1279,50 1279,60 C1287,61 1294.6,70 1294.6,80.5 C1294.6,87 1291,91.4 1288,91.4 Z" fill="url(#cloud)" stroke="#6c8ebf" stroke-width="1.6" stroke-dasharray="4 3.5"/>
<text x="1249.7" y="71.5" text-anchor="middle" class="b" style="font-size:15px;letter-spacing:0.3px">PSTN</text>

<!-- ===== tower ===== -->
<g id="tower" fill="none" stroke="#6a86bb">
<path d="M1409.6,21.5 A11,11 0 0 0 1409.6,39.7 M1422.0,21.5 A11,11 0 0 1 1422.0,39.7 M1402.8,16.1 A19.5,19.5 0 0 0 1402.8,45.1 M1428.8,16.1 A19.5,19.5 0 0 1 1428.8,45.1 M1395.7,11.1 A28,28 0 0 0 1395.7,50.1 M1435.9,11.1 A28,28 0 0 1 1435.9,50.1" stroke-width="4.8"/>
<path d="M1414,35 L1391,121.5 M1417.5,35 L1440.7,121.5" stroke-width="1.7"/>
<path d="M1410,49.9 L1424.5,61.2 L1404.2,72 L1430.8,84.4 L1397.5,96.9 L1439.1,115.6" stroke-width="1.7"/>
<circle cx="1415.8" cy="30.6" r="4.2" fill="#d6d6dc" stroke-width="1.6"/>
</g>

<!-- ===== aggregation switch symbol uses ===== -->
<use href="#aggsw" x="763.2" y="478.4"/>
<use href="#aggsw" x="763.1" y="674.3"/>

<!-- ===== access switches ===== -->
<use href="#accsw" x="95" y="815"/>
<use href="#accsw" x="737" y="815"/>
<use href="#accsw" x="1378" y="815"/>

<!-- ===== routers ===== -->
<use href="#router" x="425.6" y="786"/>
<use href="#router" x="1095.8" y="786.2"/>

<!-- ===== wifi ===== -->
<use href="#wifi" x="452.9" y="914.7"/>
<use href="#wifi" x="1122.9" y="899.7"/>

<!-- ===== walkies ===== -->
<use href="#walkie" x="416" y="924.1"/>
<use href="#walkie" x="494.7" y="922.3"/>
<use href="#walkie" x="1089.7" y="906"/>
<use href="#walkie" x="1162.5" y="906"/>

<!-- ===== oxygen detectors ===== -->
<use href="#oxy" x="44.9" y="974.1"/>
<use href="#oxy" x="856.3" y="1022.8"/>

<!-- ===== waterproof telephone (zone 1) ===== -->
<g id="wphone">
<path d="M162.5,913.5 L187,918.5 Q189.5,919 189.5,921.5 L189.5,976.5 Q189.5,978.3 187,978.4 L163,979.5 Q160.5,979.6 160.5,977 L160.5,916 Q160.5,913.2 162.5,913.5 Z" fill="#e8b400" stroke="#c89500" stroke-width=".8"/>
<path d="M164.5,917 L185.5,921 L185.5,974.5 L164.5,975.5 Z" fill="#fbcc10"/>
<rect x="172" y="936" width="1.2" height="20" fill="#ffe680" opacity=".8"/>
<rect x="189.5" y="933" width="4.5" height="4" fill="#e4b000"/>
<rect x="189.5" y="956" width="4.5" height="4" fill="#e4b000"/>
<rect x="193.7" y="918.6" width="35.2" height="58.2" rx="3" fill="#f7c600" stroke="#d9a600" stroke-width=".8"/>
<path d="M198.5,925.6 h10 q1,0 1,1 v6.5 q0,1 -1,1.5 v22 q1,.5 1,1.5 v6 q0,1.5 -1.5,1.5 h-9 q-1.5,0 -1.5,-1.5 v-6 q0,-1 1,-1.5 v-22 q-1,-.5 -1,-1.5 v-6.5 q0,-1 1,-1 z" fill="#2d2d2f"/>
<path d="M203.5,965 L203.5,968 C206,978 218,976 221.5,962 C224,950 222,936 214.5,926" stroke="#8c7a3a" stroke-width=".9" fill="none"/>
<g fill="#8d8a78">
<circle cx="214.5" cy="939" r="1.3"/><circle cx="218" cy="939" r="1.3"/><circle cx="221.5" cy="939" r="1.3"/>
<circle cx="214.5" cy="943" r="1.3"/><circle cx="218" cy="943" r="1.3"/><circle cx="221.5" cy="943" r="1.3"/>
<circle cx="214.5" cy="947" r="1.3"/><circle cx="218" cy="947" r="1.3"/><circle cx="221.5" cy="947" r="1.3"/>
<circle cx="214.5" cy="951" r="1.3"/><circle cx="218" cy="951" r="1.3"/><circle cx="221.5" cy="951" r="1.3"/>
<circle cx="214.5" cy="955" r="1.3"/><circle cx="218" cy="955" r="1.3"/><circle cx="221.5" cy="955" r="1.3"/>
</g>
<rect x="228.9" y="944" width="2" height="6" fill="#d9d0a0"/>
</g>

<!-- ===== PA speaker ===== -->
<g id="pa">
<path d="M193,1050 L211,1057 Q216,1060 216,1064 L216,1070 Q216,1074 211,1076 L195,1082 Z" fill="#4772a6"/>
<path d="M198,1080 L203,1088 L216,1087 L217,1066" stroke="#3d6699" stroke-width="1.8" fill="none"/>
<path d="M203,1088 L216,1087" stroke="#8a5a4a" stroke-width=".6" fill="none"/>
<ellipse cx="180.3" cy="1065.1" rx="17.4" ry="28.2" fill="#3f6ea2" stroke="#203a58" stroke-width="1.1"/>
<ellipse cx="180.8" cy="1065" rx="14.8" ry="25.5" fill="url(#paG)"/>
<ellipse cx="182.5" cy="1064.8" rx="4" ry="6" fill="#bcd2ee"/>
</g>

<!-- ===== acoustic-optical phone (zone 3) ===== -->
<g id="aophone">
<path d="M714.5,980 L743,988.5 Q745.3,989.2 745.3,991.5 L745.3,1050.5 Q745.3,1052.5 743,1053 L715,1059.4 Q712.3,1059.8 712.3,1057 L712.3,982.5 Q712.3,979.5 714.5,980 Z" fill="#ebb800" stroke="#c89800" stroke-width=".8"/>
<path d="M716,984.5 L741,992 L741,1049.5 L716,1055 Z" fill="#fccd14"/>
<rect x="745.3" y="1003.5" width="4" height="5" fill="#e6b200"/>
<rect x="745.3" y="1035" width="4" height="5" fill="#e6b200"/>
<rect x="749" y="988.8" width="39.3" height="63.7" rx="3" fill="#f8c800" stroke="#d9a700" stroke-width=".8"/>
<path d="M755.3,996.6 h9.5 q1.2,0 1.2,1.2 v7.5 q0,1 -1,1.5 v23 q1,.5 1,1.5 v7 q0,1.5 -1.5,1.5 h-9 q-1.5,0 -1.5,-1.5 v-7 q0,-1 1,-1.5 v-23 q-1,-.5 -1,-1.5 v-7.5 q0,-1.2 1.3,-1.2 z" fill="#2b2b2d"/>
<rect x="759" y="1039.5" width="2.2" height="3" fill="#2b2b2d"/>
<path d="M760,1042 C762,1052 775,1054 780,1046 C785,1035 782,1010 773,998" stroke="#9a8a50" stroke-width=".9" fill="none"/>
<g fill="#8e8a76">
<circle cx="769.6" cy="1012" r="1.4"/><circle cx="774.6" cy="1012" r="1.4"/><circle cx="779.6" cy="1012" r="1.4"/>
<circle cx="769.6" cy="1016.1" r="1.4"/><circle cx="774.6" cy="1016.1" r="1.4"/><circle cx="779.6" cy="1016.1" r="1.4"/>
<circle cx="769.6" cy="1020.2" r="1.4"/><circle cx="774.6" cy="1020.2" r="1.4"/><circle cx="779.6" cy="1020.2" r="1.4"/>
<circle cx="769.6" cy="1024.3" r="1.4"/><circle cx="774.6" cy="1024.3" r="1.4"/><circle cx="779.6" cy="1024.3" r="1.4"/>
<circle cx="769.6" cy="1028.4" r="1.4"/><circle cx="774.6" cy="1028.4" r="1.4"/><circle cx="779.6" cy="1028.4" r="1.4"/>
</g>
<rect x="788.3" y="1017" width="2" height="7" fill="#d9d0a0"/>
<!-- beacon -->
<path d="M757,974 Q757,971.9 762.5,971.9 Q768,971.9 768,974 L768.3,986 L756.7,986 Z" fill="#e3171b"/>
<rect x="759" y="974" width="2" height="10" fill="#ff6a60" opacity=".7"/>
<rect x="756" y="985.5" width="13" height="3" fill="#b01010"/>
<!-- horn -->
<path d="M775.5,978 L787,971.5 L788,991.5 L776,985.5 Z" fill="#3a6ca4"/>
<ellipse cx="790.4" cy="981.6" rx="7.6" ry="12.4" fill="#4a80ba" stroke="#2d5a8c" stroke-width=".8"/>
<ellipse cx="791" cy="981.2" rx="2.4" ry="3.4" fill="#a8c8ea"/>
<path d="M776,985 L778.5,991" stroke="#555" stroke-width=".8"/>
</g>

<!-- ===== camera ===== -->
<g id="camera">
<path d="M892.3,922.3 L897,920.9 Q898.2,921 898.2,922.5 L898.2,943.5 L893,945 Z" fill="#5d5e60"/>
<path d="M867.5,923 C878,922 886,923.5 893,924.5 L893,944 C889,944 886,938 878,933 L869,932 Z" fill="#bfc1c3"/>
<path d="M876,925 C882,925 888,926 893,927 L893,931 C887,930 881,929 876,929 Z" fill="#d6d8da"/>
<rect x="866" y="923" width="9.5" height="13" fill="#a6a8aa"/>
<rect x="867" y="925" width="2" height="4" fill="#333"/>
<path d="M863.5,935 L876,935 C881,940 884.5,950 886,960 L856.3,960 C857.5,950 859.5,940 863.5,935 Z" fill="url(#camg)"/>
<ellipse cx="871" cy="960.3" rx="15.8" ry="1.9" fill="#c9cacb"/>
<path d="M861.3,961 A9.5,10.2 0 0 0 880.3,961 Z" fill="#1d1d1f"/>
<path d="M864,963 L867,969" stroke="#999" stroke-width="1"/>
</g>

<!-- ===== explosion-proof assembly (zone N) ===== -->
<g id="exphone">
<g fill="none" stroke="#1a1a1a" stroke-width="1.6">
<path d="M1380.3,921 V943"/>
<path d="M1397.7,925 V933.5 H1386 V943"/>
<path d="M1380.3,958 V976.7 H1351.3 V961"/>
<path d="M1385.9,958 V976.7 H1399.6 V960.3 H1409.5"/>
<path d="M1346,961 V984.8 H1409.5"/>
</g>
<rect x="1409.5" y="959" width="2.5" height="2.5" fill="#aaa"/>
<rect x="1409.5" y="983.5" width="2.5" height="2.5" fill="#aaa"/>
<path d="M1327.5,931.8 L1337,933 Q1338.8,933.3 1338.8,935 L1338.8,959.5 Q1338.8,960.8 1337,960.8 L1328,960.8 Q1326.3,960.8 1326.3,959 L1326.3,933.5 Q1326.3,931.6 1327.5,931.8 Z" fill="#f04a14"/>
<rect x="1338.8" y="937" width="2.4" height="3" fill="#e04010"/>
<rect x="1338.8" y="953" width="2.4" height="3" fill="#e04010"/>
<rect x="1341.2" y="933.8" width="15.3" height="26.6" rx="1.5" fill="#f25016"/>
<rect x="1342.6" y="936.9" width="4.9" height="18.1" rx="2" fill="#2d2626"/>
<rect x="1349" y="941" width="6" height="9" fill="#d86a40" opacity=".8"/>
<path d="M1353.5,938.5 l1.5,-2.5 l1.5,2.5 z" fill="#f3d030"/>
<path d="M1356.2,928 L1359.1,923 L1364.9,923 L1367.8,928 L1364.9,933 L1359.1,933 Z" fill="#f2ea2e" stroke="#c8b820" stroke-width=".7"/>
<path d="M1359.5,927 h5 M1359.5,929.5 h5" stroke="#7a6a10" stroke-width=".8"/>
<circle cx="1380" cy="913.3" r="5" fill="#c9c9cc" stroke="#aaa" stroke-width=".6"/>
<circle cx="1380" cy="913.3" r="2.8" fill="#7a2222"/>
<rect x="1374" y="912.5" width="2" height="2" fill="#888"/>
<rect x="1379" y="918" width="2.6" height="4" fill="#bbb"/>
<circle cx="1397.7" cy="915.3" r="9" fill="#5f6367"/>
<circle cx="1396.5" cy="915" r="5.5" fill="#7a7e82"/>
<path d="M1398,912 a3,3 0 1 0 2,4" stroke="#c8ccd0" stroke-width="1.2" fill="none"/>
<rect x="1375.7" y="943.2" width="15.3" height="14.9" rx="1" fill="#d9d9db" stroke="#b8b8bb" stroke-width=".6"/>
<rect x="1383" y="944" width="1" height="13" fill="#c2c2c5"/>
<rect x="1379" y="941" width="2.6" height="2.5" fill="#999"/>
<rect x="1384.8" y="941" width="2.6" height="2.5" fill="#999"/>
<rect x="1379" y="958" width="2.6" height="2.5" fill="#999"/>
<rect x="1384.8" y="958" width="2.6" height="2.5" fill="#999"/>
</g>

<!-- ===== gas detector ===== -->
<g id="gas">
<path d="M1366.5,1039 L1367.5,1033 Q1370.3,1030.5 1373.2,1033 L1374.2,1039 Z" fill="#c4c4c6"/>
<rect x="1344.5" y="1040.3" width="41.5" height="35.3" rx="6" fill="#c6c7c9"/>
<rect x="1346" y="1041.5" width="38" height="3" rx="1.5" fill="#dadbdc"/>
<path d="M1383,1066 L1389.5,1066 Q1391,1069 1388.6,1072 L1383,1072 Z" fill="#c6c7c9"/>
<rect x="1385.5" y="1042" width="6.5" height="8.5" fill="#b4b5b7"/>
<ellipse cx="1359.2" cy="1059.2" rx="11" ry="12.2" fill="#dfe0e2"/>
<ellipse cx="1359.2" cy="1059.2" rx="9" ry="10.3" fill="#172233"/>
<rect x="1352" y="1058" width="13" height="1.6" fill="#b9d23a"/>
<rect x="1357" y="1051" width="6" height="5" fill="#3c4e66"/>
<rect x="1360.5" y="1077" width="16.4" height="12.7" rx="1" fill="#a8a9ab"/>
<rect x="1360.5" y="1081" width="16.4" height="3.5" fill="#2d2d2f"/>
<rect x="1360.5" y="1087" width="16.4" height="2.7" fill="#d0d0d2"/>
<path d="M1391.6,1036.4 Q1391.6,1025.6 1399.6,1025.6 Q1407.6,1025.6 1407.6,1036.4 Z" fill="#e0141e"/>
<path d="M1394,1031 Q1396,1027.5 1399,1027.5" stroke="#ff7b7b" stroke-width="1.2" fill="none"/>
<rect x="1391.6" y="1036.4" width="16" height="23.5" fill="url(#metal)"/>
</g>

<!-- ===== UPS ===== -->
<g id="ups">
<path d="M1487.3,987.2 L1513.5,982.3 L1543.1,983.2 L1520.4,988.6 Z" fill="#3a3a3c"/>
<path d="M1520.4,988.6 L1543.1,983.2 L1543.1,1032.9 L1520.4,1048.2 Z" fill="#2b2b2d"/>
<path d="M1487.3,987.2 L1520.4,988.6 L1520.4,1048.2 L1487.3,1044.7 Z" fill="#151517"/>
<path d="M1489,989 L1518.5,990.2 L1518.5,1011 L1489,1010 Z" fill="#222225"/>
<rect x="1496.4" y="993.8" width="15" height="7.4" fill="#6d92d8"/>
<rect x="1498" y="995.5" width="11.5" height="4" fill="#8fb0ea"/>
<rect x="1495" y="1006" width="17" height="1.5" fill="#555"/>
<g stroke="#0d0d0f" stroke-width=".8"><path d="M1489,1014 L1518.5,1015 M1489,1019 L1518.5,1020 M1489,1024 L1518.5,1025 M1489,1029 L1518.5,1030 M1489,1034 L1518.5,1035 M1489,1039 L1518.5,1040"/></g>
</g>

</g>

</svg>
</body></html>
